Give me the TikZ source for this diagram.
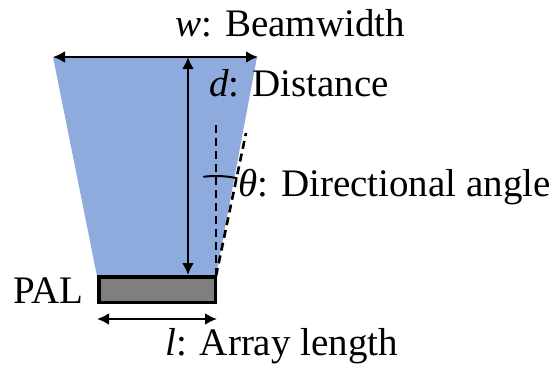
\documentclass[tikz,border=0pt]{standalone}
\usepackage{fontspec}
\setmainfont{Liberation Serif}
\usetikzlibrary{arrows.meta}
\definecolor{beam}{HTML}{8FAADC}
\definecolor{pal}{HTML}{7F7F7F}
\tikzset{
  dim/.style={line width=2.6pt,{Latex[length=12pt,width=12pt]}-{Latex[length=12pt,width=12pt]}},
  dashline/.style={line width=2.6pt,dash pattern=on 8pt off 5pt},
  lbl/.style={anchor=base west,inner sep=0pt,font=\fontsize{39}{44}\selectfont}
}
\begin{document}
\begin{tikzpicture}[x=1pt,y=-1pt]
\useasboundingbox (0,0) rectangle (559,367);
% beam
\fill[beam] (53,57) -- (257,57) -- (216,276) -- (97,276) -- cycle;
% coordinates
\coordinate (wl) at (53,57);
\coordinate (wr) at (258,57);
\coordinate (dt) at (188,57);
\coordinate (db) at (188,275);
\coordinate (ll) at (97,319);
\coordinate (lr) at (217,319);
\coordinate (c) at (216,276);
\coordinate (vt) at (216,121);
\coordinate (st) at (246,133);
% arrows
\draw[dim] (wl) -- (wr);
\draw[dim] (dt) -- (db);
\draw[dim] (ll) -- (lr);
% PAL
\node[draw=black,line width=3.5pt,fill=pal,minimum width=116.5pt,minimum height=25.5pt,inner sep=0pt,anchor=north west] (palbox) at (97,275) {};
% dashed lines
\draw[dashline] (c) -- (vt);
\draw[dashline] (c) -- (st);
% angle arc
\draw[line width=2pt,line cap=round] plot[domain=-97:-78,samples=30] ({216+100*cos(\x)},{276+100*sin(\x)});
% labels
\node[lbl] (wlab) at (175,36) {\textit{w}: Beamwidth};
\node[lbl] (dlab) at (209,96) {\textit{d}: Distance};
\node[lbl] (tlab) at (238,196) {\textit{θ}: Directional angle};
\node[lbl] (plab) at (13,303) {PAL};
\node[lbl] (llab) at (165,355) {\textit{l}: Array length};
\end{tikzpicture}
\end{document}
